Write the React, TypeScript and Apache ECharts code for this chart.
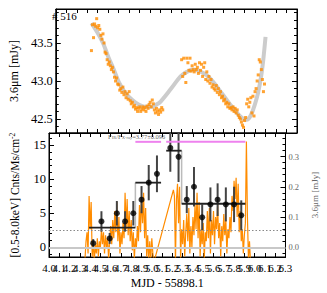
import React, { useEffect, useRef } from "react";
import * as echarts from "echarts";

// ---------- data ----------
const X_MIN = 4.0;
const X_MAX = 6.3;
const X_STEP = 0.1;

// 3.6um light curve (mJy), two visits, regular cadence
const irCadence = 0.01;
const irStartA = 4.34;
const irFluxA = [
  43.40, 43.74, 43.57, 43.75, 43.72, 43.82, 43.70, 43.73, 43.68, 43.60,
  43.55, 43.62, 43.50, 43.38, 43.36, 43.28, 43.22, 43.25, 43.20, 43.15,
  43.18, 43.12, 43.05, 43.00, 43.04, 42.96, 42.95, 42.88, 42.90, 42.85,
  42.92, 42.82, 42.86, 42.78, 42.83, 42.76, 42.86, 42.74, 42.70, 42.72,
  42.66, 42.68, 42.63, 42.65, 42.60, 42.64, 42.66, 42.60, 42.63, 42.66,
  42.62, 42.65, 42.60, 42.67, 42.64, 42.69, 42.72, 42.66, 42.75, 42.70,
  42.62, 42.58, 42.64, 42.60, 42.56, 42.62, 42.59, 42.65, 42.62,
];
const irStartB = 5.2;
const irFluxB = [
  43.28, 43.06, 43.30, 43.10, 42.98, 43.30, 43.24, 43.14, 43.30, 43.13,
  43.20, 43.15, 43.12, 43.22, 43.15, 43.18, 43.10, 43.24, 43.14, 43.22,
  43.06, 43.18, 43.24, 43.02, 43.12, 43.00, 43.06, 42.97, 43.02, 42.92,
  42.95, 42.90, 42.88, 42.94, 42.85, 42.90, 42.82, 42.86, 42.78, 42.80,
  42.74, 42.76, 42.70, 42.72, 42.66, 42.70, 42.64, 42.65, 42.62, 42.66,
  42.60, 42.64, 42.58, 42.62, 42.55, 42.52, 42.50, 42.46, 42.42, 42.39,
  42.48, 42.52, 42.70, 42.76, 42.66, 42.72, 42.78, 42.58, 42.80, 42.54,
  42.86, 42.90, 43.00, 43.08, 43.28, 43.25, 43.15, 43.02, 42.86, 42.96,
];

// smooth model through the light curve
const modelTimes = [
  4.34, 4.40, 4.45, 4.50, 4.55, 4.60, 4.66, 4.73, 4.79, 4.85, 4.91, 4.96, 5.00,
  5.10, 5.19, 5.25, 5.31, 5.37, 5.435, 5.50, 5.56, 5.62, 5.68, 5.74, 5.78, 5.82,
  5.86, 5.90, 5.93, 5.96, 5.98, 6.00,
];
const modelFlux = [
  43.76, 43.63, 43.50, 43.32, 43.16, 42.99, 42.85, 42.75, 42.69, 42.66, 42.66, 42.69, 42.73,
  42.90, 43.06, 43.12, 43.15, 43.13, 43.08, 42.99, 42.88, 42.77, 42.66, 42.56, 42.51, 42.49,
  42.55, 42.70, 42.85, 43.08, 43.30, 43.58,
];

// 3.6um residual light curve (mJy, right axis of lower panel)
const residStartA = 4.35;
const residA = [
  -0.04, 0.02, 0.05, -0.02, 0.17, 0.06, 0.15, -0.03, 0.02, -0.05,
  0.01, -0.02, 0.03, -0.03, 0.02, 0.00, 0.06, 0.01, 0.05, -0.02,
  0.04, 0.00, 0.03, -0.04, 0.02, 0.07, 0.01, 0.09, 0.03, 0.12,
  0.05, 0.15, 0.02, 0.10, -0.02, 0.05, 0.01, 0.08, 0.03, 0.18,
  0.06, 0.16, 0.04, 0.12, 0.02, 0.09, -0.01, 0.05, -0.04, 0.03,
  0.00, 0.07, 0.02, 0.14, 0.05, 0.17, 0.08, 0.18, 0.03, 0.13,
  -0.03, 0.04, -0.05, 0.02, -0.04, 0.03, -0.02, -0.05,
];
const residStartB = 5.21;
const residB = [
  0.19, 0.17, -0.05, 0.16, 0.21, 0.08, 0.20, -0.04, 0.06, 0.01,
  0.09, -0.03, 0.05, 0.11, 0.02, 0.13, -0.02, 0.07, 0.00, 0.10,
  0.04, 0.14, 0.06, 0.18, 0.03, 0.15, -0.03, 0.06, 0.01, 0.08,
  -0.04, 0.05, 0.02, 0.12, 0.03, 0.13, -0.02, 0.09, 0.04, 0.12,
  0.01, 0.10, 0.06, 0.14, 0.03, 0.08, -0.03, 0.07, 0.02, 0.11,
  0.04, 0.09, -0.02, 0.06, 0.03, 0.10, 0.05, 0.17, 0.12, 0.22,
  0.16, 0.23, 0.10, 0.21, 0.05, 0.12, 0.02, 0.06, -0.02, 0.04,
  0.08, 0.35, 0.10, -0.04, 0.02, -0.05,
];

// X-ray count rates
const xrayTimes = [4.43, 4.51, 4.59, 4.66, 4.74, 4.82, 4.90, 4.97, 5.05, 5.18, 5.26, 5.34, 5.41, 5.49, 5.57, 5.64, 5.72, 5.80, 5.87];
const xrayRates = [0.6, 3.8, 1.3, 5.0, 3.8, 5.0, 7.0, 9.5, 10.8, 14.6, 13.3, 7.0, 8.9, 4.4, 6.3, 7.0, 6.3, 6.3, 4.7];
const xrayErrors = [0.6, 1.5, 0.8, 1.8, 1.5, 1.8, 2.0, 2.6, 2.7, 3.5, 3.7, 2.0, 2.9, 1.9, 2.5, 2.4, 2.5, 2.6, 2.2];

// Bayesian blocks
const blockStarts = [4.39, 4.84, 5.14, 5.29];
const blockEnds = [4.84, 5.09, 5.29, 5.91];
const blockRates = [2.9, 9.5, 14.2, 6.4];

// flux-ratio intervals
const ratioStarts = [4.84, 5.14];
const ratioEnds = [5.09, 5.91];
const ratioLevel = 15.5;
const ratioLabelAnchor = [4.575, 16.35];

const zeroLevel = 0;
const thresholdLevel = 2.45;

// ---------- styling ----------
const FONT = "'Liberation Serif', 'DejaVu Serif', serif";
const ORANGE = "#ff8c00";

const isEdge = (v: number) => Math.abs(v - X_MIN) < 1e-6 || Math.abs(v - X_MAX) < 1e-6;

function xAxisDef(gridIndex: number, position: string, mode: "none" | "inner" | "edge") {
  const showLabels = mode !== "none";
  return {
    type: "value",
    gridIndex,
    position,
    min: X_MIN,
    max: X_MAX,
    interval: X_STEP,
    axisLine: { show: mode !== "edge", onZero: false, lineStyle: { color: "#000", width: 1 } },
    axisTick: { show: mode !== "edge", inside: true, length: 4, lineStyle: { color: "#000" } },
    axisLabel: {
      show: showLabels,
      formatter: (v: number) => (mode === "edge" ? (isEdge(v) ? v.toFixed(1) : "") : v.toFixed(1)),
      fontFamily: FONT,
      fontSize: 11,
      color: "#000",
      margin: 5,
      hideOverlap: false,
      showMinLabel: mode === "edge",
      showMaxLabel: mode === "edge",
    },
    splitLine: { show: false },
    name: mode === "inner" ? "MJD - 55898.1" : "",
    nameLocation: "middle",
    nameGap: 20,
    nameTextStyle: { fontFamily: FONT, fontSize: 12, color: "#000" },
  };
}

export default function App() {
  const ref = useRef<HTMLDivElement>(null);

  useEffect(() => {
    document.body.style.margin = "0";
    if (!ref.current) return;
    const chart = echarts.init(ref.current, null, { renderer: "svg" });

    const irData = [
      ...irFluxA.map((v, i) => [irStartA + i * irCadence, v]),
      ...irFluxB.map((v, i) => [irStartB + i * irCadence, v]),
    ];
    const residData = [
      ...residA.map((v, i) => [residStartA + i * irCadence, v]),
      ...residB.map((v, i) => [residStartB + i * irCadence, v]),
    ];
    const modelData = modelTimes.map((t, i) => [t, modelFlux[i]]);
    const errData = xrayTimes.map((t, i) => [t, xrayRates[i] - xrayErrors[i], xrayRates[i] + xrayErrors[i]]);
    const pointData = xrayTimes.map((t, i) => [t, xrayRates[i]]);
    const blockData = blockStarts.map((s, i) => [s, blockEnds[i], blockRates[i]]);
    const stepData: number[][] = [];
    for (let i = 0; i < blockStarts.length - 1; i++) {
      if (blockEnds[i] === blockStarts[i + 1]) stepData.push([blockEnds[i], blockRates[i], blockRates[i + 1]]);
    }
    const ratioData = ratioStarts.map((s, i) => [s, ratioEnds[i], ratioLevel]);

    const hLine = (color: string, width: number) => (params: any, api: any) => {
      const p0 = api.coord([api.value(0), api.value(2)]);
      const p1 = api.coord([api.value(1), api.value(2)]);
      return { type: "line", shape: { x1: p0[0], y1: p0[1], x2: p1[0], y2: p1[1] }, style: { stroke: color, lineWidth: width } };
    };
    const vLine = (color: string, width: number) => (params: any, api: any) => {
      const p0 = api.coord([api.value(0), api.value(1)]);
      const p1 = api.coord([api.value(0), api.value(2)]);
      return { type: "line", shape: { x1: p0[0], y1: p0[1], x2: p1[0], y2: p1[1] }, style: { stroke: color, lineWidth: width } };
    };

    const leftLabel = { fontFamily: FONT, fontSize: 12.5, color: "#000", margin: 3, showMinLabel: false, showMaxLabel: false };

    chart.setOption({
      animation: false,
      grid: [
        { left: 48, top: 9, width: 249, height: 124, show: true, borderColor: "#000", borderWidth: 1, backgroundColor: "#fff" },
        { left: 48, top: 133, width: 249, height: 124, show: true, borderColor: "#000", borderWidth: 1, backgroundColor: "#fff" },
      ],
      xAxis: [
        xAxisDef(0, "bottom", "none"),
        xAxisDef(0, "top", "none"),
        xAxisDef(1, "bottom", "inner"),
        xAxisDef(1, "top", "none"),
        xAxisDef(1, "bottom", "edge"),
      ],
      yAxis: [
        {
          type: "value", gridIndex: 0, position: "left", min: 42.316, max: 43.947, splitNumber: 3,
          axisLine: { show: true, onZero: false, lineStyle: { color: "#000" } },
          axisTick: { show: true, inside: true, length: 5, lineStyle: { color: "#000" } },
          minorTick: { show: true, splitNumber: 5, length: 3, lineStyle: { color: "#000" } },
          axisLabel: { ...leftLabel, formatter: (v: number) => v.toFixed(1) },
          splitLine: { show: false },
          name: "3.6μm [mJy]", nameLocation: "middle", nameGap: 29,
          nameTextStyle: { fontFamily: FONT, fontSize: 12, color: "#000" },
        },
        {
          type: "value", gridIndex: 0, position: "right", min: 42.316, max: 43.947, splitNumber: 3,
          axisLine: { show: true, onZero: false, lineStyle: { color: "#000" } },
          axisTick: { show: true, inside: true, length: 5, lineStyle: { color: "#000" } },
          minorTick: { show: true, splitNumber: 5, length: 3, lineStyle: { color: "#000" } },
          axisLabel: { show: false },
          splitLine: { show: false },
        },
        {
          type: "value", gridIndex: 1, position: "left", min: -1.43, max: 16.8, splitNumber: 4,
          axisLine: { show: true, onZero: false, lineStyle: { color: "#000" } },
          axisTick: { show: true, inside: true, length: 5, lineStyle: { color: "#000" } },
          minorTick: { show: true, splitNumber: 5, length: 3, lineStyle: { color: "#000" } },
          axisLabel: { ...leftLabel, formatter: (v: number) => String(Math.round(v)) },
          splitLine: { show: false },
          name: "[0.5-8.0keV] Cnts/Ms/cm{sup|-2}", nameLocation: "middle", nameGap: 27,
          nameTextStyle: {
            fontFamily: FONT, fontSize: 11.5, color: "#000",
            rich: { sup: { fontFamily: FONT, fontSize: 7.5, color: "#000", verticalAlign: "top", lineHeight: 14 } },
          },
        },
        {
          type: "value", gridIndex: 1, position: "right", min: -0.032, max: 0.378, splitNumber: 4,
          axisLine: { show: true, onZero: false, lineStyle: { color: "#000" } },
          axisTick: { show: true, inside: true, length: 5, lineStyle: { color: "#000" } },
          minorTick: { show: true, splitNumber: 5, length: 3, lineStyle: { color: "#000" } },
          axisLabel: { fontFamily: FONT, fontSize: 8.5, color: "#666666", margin: 3, showMinLabel: false, showMaxLabel: false, formatter: (v: number) => v.toFixed(1) },
          splitLine: { show: false },
          name: "3.6μm [mJy]", nameLocation: "middle", nameGap: 14,
          nameTextStyle: { fontFamily: FONT, fontSize: 9, color: "#666666" },
        },
      ],
      graphic: [
        { type: "text", left: 52, top: 10, style: { text: "# 516", font: `11px ${FONT}`, fill: "#000" }, z: 100 },
      ],
      series: [
        {
          type: "line", xAxisIndex: 0, yAxisIndex: 0, data: modelData, smooth: 0.35, showSymbol: false,
          lineStyle: { color: "#cccccc", width: 4 }, z: 1,
        },
        {
          type: "scatter", xAxisIndex: 0, yAxisIndex: 0, data: irData, symbol: "rect", symbolSize: 3,
          itemStyle: { color: ORANGE }, z: 2,
        },
        {
          type: "custom", xAxisIndex: 2, yAxisIndex: 2, data: stepData, renderItem: vLine("#bbbbbb", 1.5),
          encode: { x: 0, y: [1, 2] }, clip: true, z: 1,
          markLine: {
            silent: true, symbol: "none", label: { show: false }, animation: false,
            data: [
              { yAxis: zeroLevel, lineStyle: { color: "#c8c8c8", width: 2, type: "solid" } },
              { yAxis: thresholdLevel, lineStyle: { color: "#888", width: 1, type: [1.5, 2] } },
            ],
          },
        },
        {
          type: "line", xAxisIndex: 2, yAxisIndex: 3, data: residData, showSymbol: false,
          lineStyle: { color: ORANGE, width: 1.2 }, z: 2,
        },
        {
          type: "custom", xAxisIndex: 2, yAxisIndex: 2, data: errData, renderItem: vLine("#444", 2),
          encode: { x: 0, y: [1, 2] }, clip: true, z: 4,
        },
        {
          type: "custom", xAxisIndex: 2, yAxisIndex: 2, data: blockData, renderItem: hLine("#222", 1.8),
          encode: { x: [0, 1], y: 2 }, clip: true, z: 5,
        },
        {
          type: "custom", xAxisIndex: 2, yAxisIndex: 2, data: ratioData, renderItem: hLine("#ee82ee", 2),
          encode: { x: [0, 1], y: 2 }, clip: true, z: 5,
        },
        {
          type: "scatter", xAxisIndex: 2, yAxisIndex: 2, data: pointData, symbolSize: 6,
          itemStyle: { color: "#000" }, z: 6,
        },
        {
          type: "scatter", xAxisIndex: 2, yAxisIndex: 2, data: [ratioLabelAnchor], symbolSize: 0,
          itemStyle: { color: "rgba(0,0,0,0)" }, z: 7, silent: true,
          label: {
            show: true, position: "right", distance: 0,
            formatter: "{n|F}{s|IR}{n|/F}{s|X-ray}{n|=3.77±0.096}",
            rich: {
              n: { fontFamily: FONT, fontSize: 6.5, color: "#333" },
              s: { fontFamily: FONT, fontSize: 4.5, color: "#333", verticalAlign: "bottom" },
            },
          },
        },
      ],
    });

    return () => chart.dispose();
  }, []);

  return <div ref={ref} style={{ width: 327, height: 293 }} />;
}
